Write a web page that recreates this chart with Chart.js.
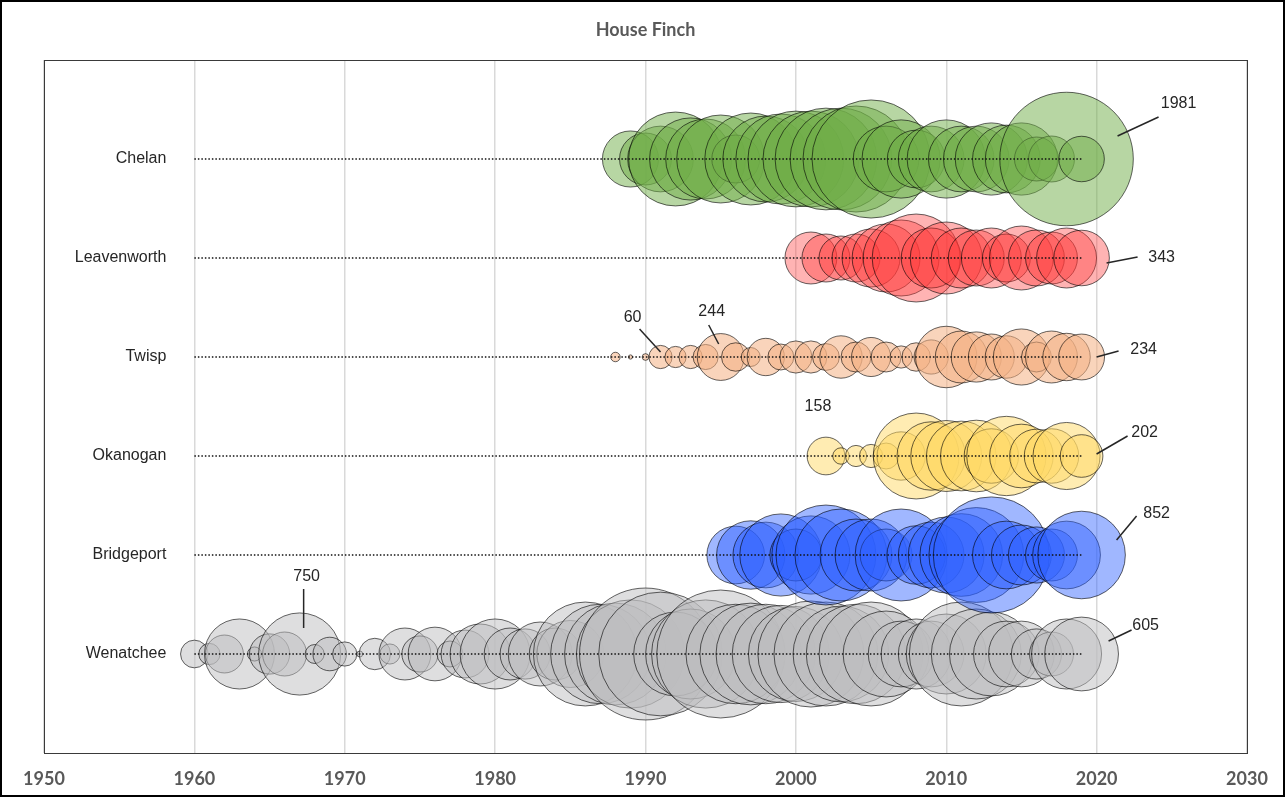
<!DOCTYPE html>
<html>
<head>
<meta charset="utf-8">
<title>House Finch</title>
<script src="https://cdn.jsdelivr.net/npm/chart.js@4.4.1/dist/chart.umd.min.js"></script>
<style>
  html, body { margin: 0; padding: 0; background: #fff; }
  #wrap { width: 1285px; height: 797px; }
  canvas { display: block; }
</style>
</head>
<body>
<div id="wrap"><canvas id="finchChart" width="1285" height="797"></canvas></div>
<script>
// House Finch counts per count circle, one bubble per year
const TITLE = 'House Finch';
const sites = ['Wenatchee', 'Bridgeport', 'Okanogan', 'Twisp', 'Leavenworth', 'Chelan'];
const yearTicks = [1950, 1960, 1970, 1980, 1990, 2000, 2010, 2020, 2030];
const lineStartYear = 1960;

const wenatcheeFirst = 1960;
const wenatchee = [
  85, 50, 160, 545, 22, 180, 215, 750, 40, 125,
  65, 4, 110, 45, 300, 145, 320, 75, 255, 400,
  545, 300, 280, 455, 300, 500, 1200, 1100, 1150, 1300,
  1935, 1700, 780, 900, 1300, 1820, 1100, 1150, 1100, 1050,
  1000, 1250, 1200, 1020, 1100, 1200, 820, 480, 545, 480,
  710, 1200, 900, 780, 480, 480, 280, 215, 545, 605
];
const bridgeportFirst = 1996;
const bridgeport = [370, 520, 480, 750, 300, 680, 1110, 940, 575, 575, 300, 940,
  380, 480, 640, 760, 1000, 1500, 510, 400, 350, 300, 510, 852];
const okanoganFirst = 2002;
const okanogan = [158, 30, 50, 60, 75, 260, 820, 520, 560, 540, 570, 330, 700, 450, 320, 330, 500, 202];
const twispFirst = 1988;
const twisp = [10, 2, 5, 60, 50, 60, 70, 244, 90, 40, 155, 75, 115, 115, 80, 200,
  100, 170, 100, 55, 90, 130, 420, 300, 280, 235, 200, 350, 100, 300, 250, 234];
const leavenworthFirst = 2001;
const leavenworth = [300, 256, 215, 256, 374, 514, 642, 860, 400, 576, 400, 348, 400, 256, 455, 348, 300, 400, 343];
const chelanFirst = 1989;
const chelan = [350, 300, 480, 980, 750, 710, 860, 255, 940, 820, 900, 1020, 1020, 1150, 1150, 1250,
  1550, 480, 680, 370, 480, 680, 480, 480, 580, 510, 580, 215, 235, 1981, 230];

const counts = { Wenatchee: wenatchee, Bridgeport: bridgeport, Okanogan: okanogan, Twisp: twisp, Leavenworth: leavenworth, Chelan: chelan };
const firstYears = { Wenatchee: wenatcheeFirst, Bridgeport: bridgeportFirst, Okanogan: okanoganFirst, Twisp: twispFirst, Leavenworth: leavenworthFirst, Chelan: chelanFirst };

const fills = {
  Wenatchee: 'rgba(190, 190, 192, 0.5)',
  Bridgeport: 'rgba(45, 95, 255, 0.45)',
  Okanogan: 'rgba(255, 217, 102, 0.5)',
  Twisp: 'rgba(244, 177, 131, 0.55)',
  Leavenworth: 'rgba(255, 55, 55, 0.38)',
  Chelan: 'rgba(112, 173, 71, 0.5)'
};

// bubble area follows the count
const R_SCALE = 1.5;

// callouts: pixel offsets from the bubble centre (leader start, leader end, text centre)
const callouts = [
  { site: 'Chelan', year: 2018, from: [51, -23], to: [92, -42], text: [112, -55] },
  { site: 'Leavenworth', year: 2019, from: [25, 5], to: [56, -1], text: [80, 0] },
  { site: 'Twisp', year: 1991, from: [0, -5], to: [-21, -28], text: [-28, -39] },
  { site: 'Twisp', year: 1995, from: [-2, -13], to: [-12, -32], text: [-9, -45] },
  { site: 'Twisp', year: 2019, from: [15, 0], to: [37, -6], text: [62, -7] },
  { site: 'Okanogan', year: 2002, text: [-8, -49] },
  { site: 'Okanogan', year: 2019, from: [15, -2], to: [46, -20], text: [63, -23] },
  { site: 'Bridgeport', year: 2019, from: [35, -15], to: [55, -39], text: [75, -41] },
  { site: 'Wenatchee', year: 1967, from: [4, -26], to: [4, -65], text: [7, -77] },
  { site: 'Wenatchee', year: 2019, from: [27, -13], to: [50, -24], text: [64, -28] }
];

function countAt(site, year) {
  return counts[site][year - firstYears[site]];
}

const bubbleSets = sites.map((site, i) => ({
  type: 'bubble',
  label: site,
  data: counts[site].map((c, k) => ({ x: firstYears[site] + k, y: i + 1, r: R_SCALE * Math.sqrt(c) })),
  backgroundColor: fills[site],
  borderColor: 'rgba(0, 0, 0, 0.6)',
  borderWidth: 1,
  order: sites.length - i
}));

const dottedSets = sites.map((site, i) => ({
  type: 'line',
  label: site + ' line',
  data: [
    { x: lineStartYear, y: i + 1 },
    { x: firstYears[site] + counts[site].length - 1, y: i + 1 }
  ],
  borderColor: '#111',
  borderWidth: 1.5,
  borderDash: [1.5, 2],
  pointRadius: 0,
  fill: false,
  order: 0
}));

const decor = {
  id: 'decor',
  afterDatasetsDraw(chart) {
    const { ctx, chartArea: a, scales: { x, y } } = chart;
    ctx.save();

    // plot frame
    ctx.strokeStyle = '#3a3a3a';
    ctx.lineWidth = 1;
    ctx.strokeRect(a.left + 0.5, a.top + 0.5, a.right - a.left, a.bottom - a.top);

    // site names
    ctx.fillStyle = '#262626';
    ctx.font = '16px "Liberation Sans", Arial, sans-serif';
    ctx.textAlign = 'right';
    ctx.textBaseline = 'middle';
    sites.forEach((s, i) => {
      ctx.fillText(s, x.getPixelForValue(lineStartYear) - 28, y.getPixelForValue(i + 1));
    });

    // value callouts
    ctx.strokeStyle = '#262626';
    ctx.lineWidth = 1.5;
    ctx.textAlign = 'center';
    callouts.forEach(c => {
      const cx = x.getPixelForValue(c.year);
      const cy = y.getPixelForValue(sites.indexOf(c.site) + 1);
      if (c.from) {
        ctx.beginPath();
        ctx.moveTo(cx + c.from[0], cy + c.from[1]);
        ctx.lineTo(cx + c.to[0], cy + c.to[1]);
        ctx.stroke();
      }
      ctx.fillText(String(countAt(c.site, c.year)), cx + c.text[0], cy + c.text[1]);
    });

    // title
    ctx.fillStyle = '#595959';
    ctx.font = 'bold 18px Lato, sans-serif';
    ctx.fillText(TITLE, (a.left + a.right) / 2, 30);

    // outer border
    ctx.strokeStyle = '#000';
    ctx.lineWidth = 2;
    ctx.strokeRect(1, 1, chart.width - 2, chart.height - 2);
    ctx.restore();
  }
};

new Chart(document.getElementById('finchChart'), {
  type: 'bubble',
  data: { datasets: [...dottedSets, ...bubbleSets] },
  options: {
    responsive: false,
    devicePixelRatio: 1,
    animation: false,
    events: [],
    layout: { autoPadding: false, padding: { left: 44, top: 60, right: 38, bottom: 0 } },
    plugins: { legend: { display: false }, tooltip: { enabled: false }, title: { display: false } },
    scales: {
      x: {
        type: 'linear',
        min: 1950,
        max: 2030,
        afterBuildTicks: s => { s.ticks = yearTicks.map(v => ({ value: v })); },
        afterFit: s => { s.height = 44; },
        ticks: {
          callback: v => String(v),
          autoSkip: false,
          maxRotation: 0,
          padding: 15,
          color: '#595959',
          font: { family: 'Lato', size: 18, weight: 'bold' }
        },
        grid: { color: '#d9d9d9', lineWidth: 1.5, drawTicks: false },
        border: { display: false }
      },
      y: { type: 'linear', min: 0, max: 7, display: false }
    }
  },
  plugins: [decor]
});
</script>
</body>
</html>
